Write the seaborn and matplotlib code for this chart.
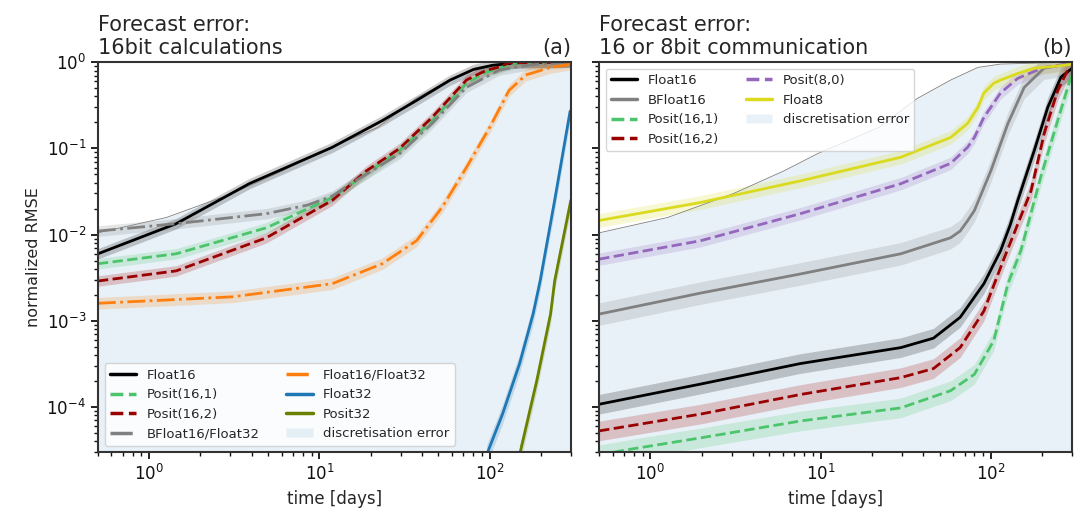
import matplotlib
matplotlib.use("Agg")
import matplotlib.pyplot as plt
import seaborn as sns
from matplotlib.patches import Patch

# discretisation error (upper edge of the shaded area)
disc_t = [0.5, 1.26, 3.08, 6.1, 9.6, 22, 37, 58, 84, 114, 300]
disc_y = [0.0105, 0.0158, 0.030, 0.055, 0.087, 0.175, 0.38, 0.62, 0.87, 0.95, 1.0]

# (a) 16bit calculations
a_float16_t = [0.5, 1.44, 3.87, 11.9, 23.4, 37.2, 58.6, 80, 104, 150, 300]
a_float16_y = [0.0060, 0.0134, 0.039, 0.103, 0.21, 0.36, 0.62, 0.82, 0.92, 0.99, 1.0]
a_bf16_t = [0.5, 1.44, 4.88, 8.5, 11.9, 17.2, 29.6, 46, 73, 114, 171, 300]
a_bf16_y = [0.011, 0.0134, 0.0175, 0.022, 0.028, 0.045, 0.087, 0.195, 0.51, 0.81, 0.93, 1.0]
a_p161_t = [0.5, 1.44, 4.88, 11.9, 18.9, 29.6, 46, 73, 95, 114, 140, 300]
a_p161_y = [0.0046, 0.006, 0.012, 0.027, 0.051, 0.095, 0.21, 0.57, 0.76, 0.85, 0.97, 1.0]
a_p162_t = [0.5, 1.44, 4.88, 11.9, 18.9, 29.6, 46, 73, 95, 114, 130, 300]
a_p162_y = [0.0029, 0.0038, 0.0092, 0.025, 0.055, 0.10, 0.23, 0.62, 0.80, 0.88, 0.98, 1.0]
a_f1632_t = [0.5, 3.08, 11.9, 23.4, 37.2, 52.8, 73, 100, 130, 163, 228, 300]
a_f1632_y = [0.0016, 0.0019, 0.0027, 0.0046, 0.0085, 0.021, 0.06, 0.175, 0.47, 0.71, 0.87, 0.95]
a_f32_t = [96, 119, 150, 180, 198, 241, 297]
a_f32_y = [2.8e-5, 8.3e-5, 3.2e-4, 0.0012, 0.0029, 0.025, 0.27]
a_p32_t = [150, 189, 228, 241, 300]
a_p32_y = [2.8e-5, 2e-4, 0.0012, 0.0029, 0.025]

# (b) 16 or 8bit communication
b_float16_t = [0.5, 1.97, 7.6, 29.6, 46, 66, 91, 114, 130, 144, 180, 216, 258, 300]
b_float16_y = [1.08e-4, 1.85e-4, 3.2e-4, 4.9e-4, 6.3e-4, 0.0011, 0.0027, 0.0065, 0.013, 0.025, 0.095, 0.30, 0.67, 0.85]
b_bf16_t = [0.5, 1.97, 7.6, 29.6, 58, 66, 73, 80, 100, 126, 157, 205, 300]
b_bf16_y = [0.0012, 0.0021, 0.0035, 0.006, 0.0092, 0.011, 0.0145, 0.019, 0.055, 0.195, 0.51, 0.85, 0.97]
b_p161_t = [0.5, 0.8, 1.97, 7.6, 29.6, 58, 80, 104, 126, 150, 196, 247, 295, 300]
b_p161_y = [2.8e-5, 3.3e-5, 4.4e-5, 6.9e-5, 9.8e-5, 1.55e-4, 2.4e-4, 5.9e-4, 0.0027, 0.0065, 0.046, 0.21, 0.67, 0.7]
b_p162_t = [0.5, 1.97, 7.6, 29.6, 46, 66, 91, 120, 172, 206, 247, 282, 300]
b_p162_y = [5.3e-5, 8.3e-5, 1.4e-4, 2.2e-4, 2.8e-4, 4.9e-4, 0.0013, 0.0054, 0.032, 0.15, 0.47, 0.8, 0.85]
b_p80_t = [0.5, 1.97, 7.6, 29.6, 58, 73, 80, 91, 100, 114, 144, 205, 300]
b_p80_y = [0.0052, 0.0085, 0.0175, 0.039, 0.067, 0.103, 0.134, 0.23, 0.30, 0.44, 0.65, 0.87, 0.97]
b_f8_t = [0.5, 1.97, 7.6, 29.6, 58, 73, 84, 91, 104, 114, 144, 180, 269, 300]
b_f8_y = [0.0146, 0.0236, 0.042, 0.079, 0.134, 0.195, 0.30, 0.44, 0.57, 0.62, 0.74, 0.85, 0.92, 0.95]

# band half-width (multiplicative) per series
a_spread = [1.15, 1.15, 1.15, 1.15, 1.17, 1.3, 1.3]
b_spread = [1.3, 1.35, 1.3, 1.3, 1.18, 1.2]

sns.set_style("ticks")
plt.rcParams["font.family"] = ["DejaVu Sans"]
plt.rcParams["axes.edgecolor"] = "#333333"
plt.rcParams["axes.linewidth"] = 1.5
plt.rcParams["xtick.color"] = "#111111"
plt.rcParams["ytick.color"] = "#111111"

fig, (ax1, ax2) = plt.subplots(1, 2, figsize=(10.84, 5.18), dpi=100, sharey=True)
fig.subplots_adjust(left=0.0904, right=0.989, bottom=0.127, top=0.880, wspace=0.06)

disc_color = "#1f77b4"


def draw_disc(ax):
    ax.fill_between(disc_t, 1e-6, disc_y, color=disc_color, alpha=0.1, lw=0)
    sns.lineplot(x=disc_t, y=disc_y, ax=ax, color="grey", lw=0.6, estimator=None)


def draw_series(ax, t, y, color, ls, spread, label):
    lo = [v / spread for v in y]
    hi = [v * spread for v in y]
    ax.fill_between(t, lo, hi, color=color, alpha=0.2, lw=0)
    sns.lineplot(x=t, y=y, ax=ax, color=color, linestyle=ls, lw=2, estimator=None)
    return plt.Line2D([], [], color=color, linestyle=ls, lw=2.5, label=label)


draw_disc(ax1)
a_series = [
    (a_float16_t, a_float16_y, "k", "-", "Float16"),
    (a_p161_t, a_p161_y, "#4cc46c", "--", "Posit(16,1)"),
    (a_p162_t, a_p162_y, "#990000", "--", "Posit(16,2)"),
    (a_bf16_t, a_bf16_y, "#808080", "-.", "BFloat16/Float32"),
    (a_f1632_t, a_f1632_y, "#ff7f0e", "-.", "Float16/Float32"),
    (a_f32_t, a_f32_y, "#1f77b4", "-", "Float32"),
    (a_p32_t, a_p32_y, "#6b7f00", "-", "Posit32"),
]
handles_a = []
for (t, y, c, ls, name), s in zip(a_series, a_spread):
    handles_a.append(draw_series(ax1, t, y, c, ls, s, name))
handles_a.append(Patch(facecolor=disc_color, alpha=0.1, label="discretisation error"))

draw_disc(ax2)
b_series = [
    (b_float16_t, b_float16_y, "k", "-", "Float16"),
    (b_bf16_t, b_bf16_y, "#808080", "-", "BFloat16"),
    (b_p161_t, b_p161_y, "#4cc46c", "--", "Posit(16,1)"),
    (b_p162_t, b_p162_y, "#990000", "--", "Posit(16,2)"),
    (b_p80_t, b_p80_y, "#9467bd", "--", "Posit(8,0)"),
    (b_f8_t, b_f8_y, "#dada1e", "-", "Float8"),
]
handles_b = []
for (t, y, c, ls, name), s in zip(b_series, b_spread):
    handles_b.append(draw_series(ax2, t, y, c, ls, s, name))
handles_b.append(Patch(facecolor=disc_color, alpha=0.1, label="discretisation error"))

for ax in (ax1, ax2):
    ax.set_xscale("log")
    ax.set_yscale("log")
    ax.set_xlim(0.5, 300)
    ax.set_ylim(3e-5, 1)
    ax.set_xlabel("time [days]", fontsize=12)
    ax.tick_params(axis="both", which="major", labelsize=12, length=5, width=1.3)
    ax.tick_params(axis="both", which="minor", length=3, width=1)

ax1.set_ylabel("normalized RMSE", fontsize=11.5)
ax2.tick_params(axis="y", labelleft=False)

ax1.set_title("Forecast error:\n16bit calculations", loc="left", fontsize=15)
ax1.set_title("(a)", loc="right", fontsize=15)
ax2.set_title("Forecast error:\n16 or 8bit communication", loc="left", fontsize=15)
ax2.set_title("(b)", loc="right", fontsize=15)

ax1.legend(handles=handles_a, loc="lower left", ncol=2, fontsize=9.5, frameon=True,
           framealpha=0.8, edgecolor="#cccccc")
ax2.legend(handles=handles_b, loc="upper left", ncol=2, fontsize=9.5, frameon=True,
           framealpha=0.8, edgecolor="#cccccc")

fig.savefig("out.png", dpi=100)
